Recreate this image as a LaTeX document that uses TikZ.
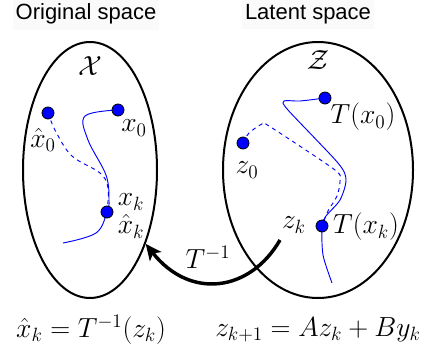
\documentclass[tikz,border=0pt]{standalone}
\usepackage{fontspec}
\setsansfont{Liberation Sans}
\usetikzlibrary{arrows.meta,shapes.geometric}

\begin{document}
\begin{tikzpicture}[
  x=0.75pt, y=-0.75pt, font=\fontsize{21.5}{24}\selectfont,
  space/.style={draw,ellipse,line width=1.5pt,inner sep=0pt},
  dot/.style={circle,draw=black,line width=0.6pt,fill=blue,inner sep=0pt,minimum size=9pt},
  traj/.style={blue,line width=0.7pt},
  hdr/.style={font=\sffamily\fontsize{16.5}{20}\selectfont,fill=black!2,inner xsep=2pt,inner ysep=4pt},
  lbl/.style={inner sep=1pt}]

\useasboundingbox (0,0) rectangle (421,347);

\node[hdr] (hx) at ( 86,14) {Original space};
\node[hdr] (hz) at (308,14) {Latent space};

\node[space,minimum width=100.5pt,minimum height=192pt] (X) at ( 90,170) {};
\node[space,minimum width=142.5pt,minimum height=192pt] (Z) at (318,170) {};
\node at ( 90,66) {$\mathcal{X}$};
\node at (318,60) {$\mathcal{Z}$};

% original space
\coordinate (x0) at (118,110);
\coordinate (xh0) at ( 48,113);
\coordinate (xk) at (107,212);
\draw[traj] plot[smooth,tension=0.6] coordinates {(x0) (85,116) (88,140) (106,175) (109,200) (xk) (96,233) (63,243)};
\draw[traj,dashed] plot[smooth,tension=0.6] coordinates {(xh0) (56,132) (72,156) (100,173) (108,188) (xk)};
\node[dot] (nx0) at (x0) {};
\node[dot] (nxh0) at (xh0) {};
\node[dot] (nxk) at (xk) {};
\node[lbl] (lx0) at (134,128) {$x_0$};
\node[lbl] (lxh0) at ( 43,140) {$\hat{x}_0$};
\node[lbl,align=left,inner sep=0pt] (lxk) at (131,216) {$x_k$\\[-3pt]$\hat{x}_k$};

% latent space
\coordinate (t0) at (325,98);
\coordinate (z0) at (243,143);
\coordinate (tk) at (322,226);
\draw[traj] plot[smooth,tension=0.45] coordinates {(t0) (300,101) (284,101) (288,110) (338,163) (346,180) (340,200) (326,216) (tk) (323,255) (332,283)};
\draw[traj,dashed] plot[smooth,tension=0.45] coordinates {(z0) (249,133) (262,124) (269,126) (335,170) (340,181) (337,196) (328,211) (tk)};
\node[dot] (nt0) at (t0) {};
\node[dot] (nz0) at (z0) {};
\node[dot] (ntk) at (tk) {};
\node[lbl] (lt0) at (363,117) {$T(x_0)$};
\node[lbl] (lz0) at (247,170) {$z_0$};
\node[lbl] (lzk) at (294,225) {$z_k$};
\node[lbl] (ltk) at (366,227) {$T(x_k)$};

% inverse map
\coordinate (inv) at (280,240);
\draw[line width=2.6pt,-{Stealth[length=12pt,width=11pt,inset=3pt]}] (inv) .. controls (250,292) and (190,300) .. (X.-53);
\node (linv) at (208,257) {$T^{-1}$};

\node (ex) at ( 91,330) {$\hat{x}_k = T^{-1}(z_k)$};
\node (ez) at (318,330) {$z_{k+1} = Az_k + By_k$};
\end{tikzpicture}
\end{document}
